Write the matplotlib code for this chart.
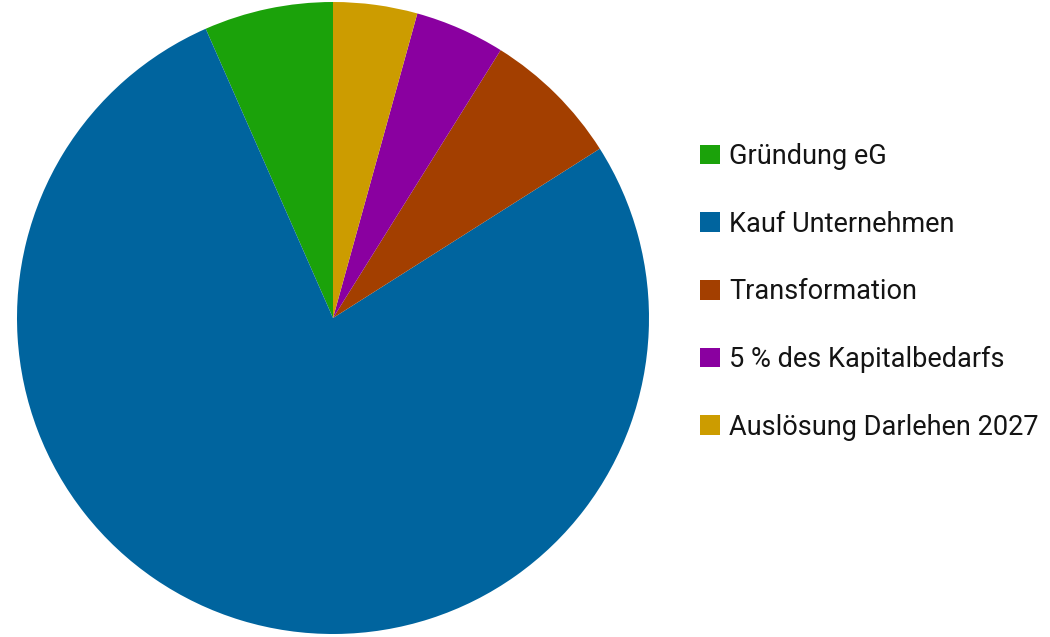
import matplotlib
matplotlib.use("Agg")
import matplotlib.pyplot as plt

labels = ["Gründung eG", "Kauf Unternehmen", "Transformation",
          "5 % des Kapitalbedarfs", "Auslösung Darlehen 2027"]
values = [6.6, 77.4, 7.1, 4.6, 4.3]
colors = ["#1ba20a", "#00649e", "#a33f00", "#8a00a0", "#cc9c00"]

W, H = 1050, 637
fig = plt.figure(figsize=(W / 100, H / 100), dpi=100)
cx, cy, r = 333, 318, 316
ax = fig.add_axes([(cx - r) / W, (H - cy - r) / H, 2 * r / W, 2 * r / H])
wedges, _ = ax.pie(values, colors=colors, startangle=90, counterclock=True,
                   wedgeprops=dict(edgecolor="none", linewidth=0))
ax.set_xlim(-1, 1)
ax.set_ylim(-1, 1)
ax.set_aspect("auto")
ax.axis("off")

leg = fig.legend(wedges, labels, loc="upper left",
                 bbox_to_anchor=(700 / W, 1 - 143 / H),
                 frameon=False,
                 prop=dict(family="Roboto", size=19.5),
                 handlelength=0.74, handleheight=0.74, handletextpad=0.33,
                 labelspacing=1.5, borderpad=0, borderaxespad=0)
for t in leg.get_texts():
    t.set_color("#141414")

fig.savefig("out.png", dpi=100)
